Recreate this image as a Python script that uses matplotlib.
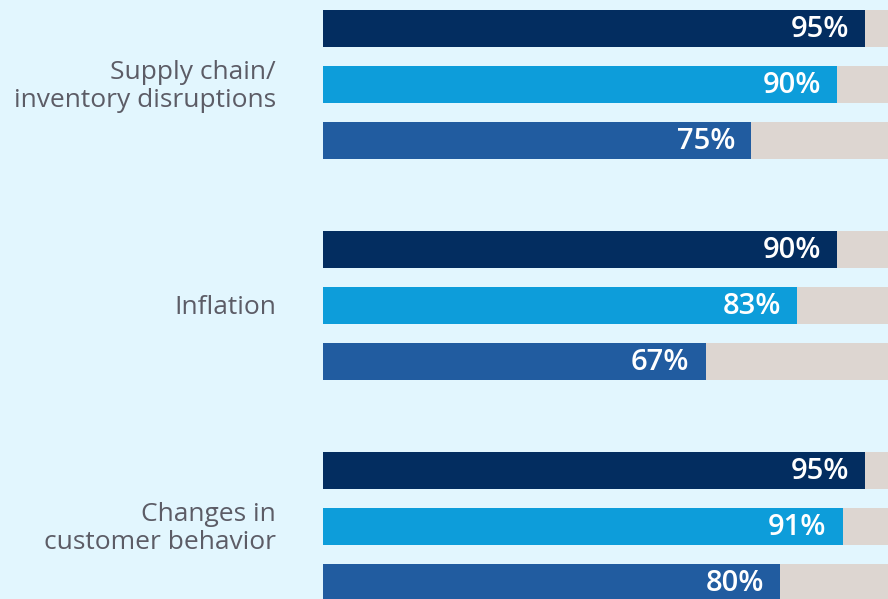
import matplotlib.pyplot as plt

categories = ["Supply chain/\ninventory disruptions", "Inflation", "Changes in\ncustomer behavior"]
series1 = [95, 90, 95]
series2 = [90, 83, 91]
series3 = [75, 67, 80]
colors = ["#032d60", "#0d9dda", "#215ca0"]
track_color = "#ddd6d1"
bg = "#e2f6fe"

fig = plt.figure(figsize=(8.88, 5.99), dpi=100, facecolor=bg)
ax = fig.add_axes([323/888, 0, 1 - 323/888, 1])
ax.set_facecolor(bg)

group_step = 221
bar_step = 56
bar_h = 37
all_series = [series1, series2, series3]
for i, cat in enumerate(categories):
    for j, s in enumerate(all_series):
        y = i * group_step + j * bar_step
        ax.barh(y, 100, height=bar_h, color=track_color, linewidth=0)
        ax.barh(y, s[i], height=bar_h, color=colors[j], linewidth=0)
        ax.annotate(f"{s[i]}%", xy=(s[i], y), xytext=(-16, -1), textcoords="offset pixels",
                    ha="right", va="center", color="white", fontsize=21,
                    fontweight="semibold", family="Open Sans")
    yc = i * group_step + bar_step
    ax.annotate(cat, xy=(0, yc), xytext=(-47, -2), textcoords="offset pixels",
                ha="right", va="center", color="#5c5c66", fontsize=19,
                family="Open Sans", linespacing=1.15, annotation_clip=False)

ax.set_xlim(0, 565 / 571 * 100)
ax.set_ylim(599 - 28.5, -28.5)
ax.axis("off")
fig.savefig("out.png", dpi=100, facecolor=bg)
